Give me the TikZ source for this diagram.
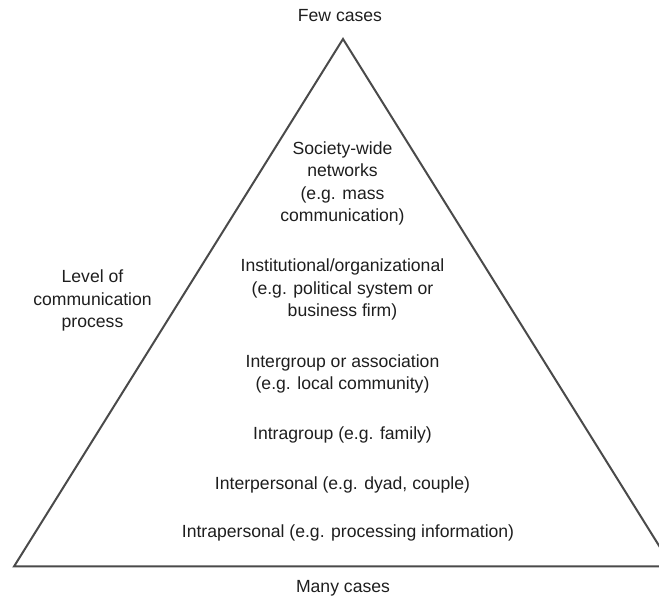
\documentclass[tikz,border=0pt]{standalone}
\usepackage{fontspec}
\setmainfont{Liberation Sans}
\definecolor{txt}{HTML}{1E1E1E}
\definecolor{lin}{HTML}{4A4A4A}
\begin{document}
\begin{tikzpicture}[x=1pt,y=1pt,
  lbl/.style={anchor=base, align=center, inner sep=0pt, text=txt, font=\fontsize{17.6}{22.5}\selectfont},
  edge/.style={draw=lin, line width=2pt, line join=miter}]
\clip (0,0) rectangle (659,599);
\coordinate (apex) at (343,560);
\coordinate (bl) at (14,32.5);
\coordinate (br) at (672,32.5);
\draw[edge] (apex) -- (bl) -- (br) -- cycle;
% anchor=base of a multi-line node is the baseline of its last line
\node[lbl] (few) at (340,577) {Few cases};
\node[lbl] (many) at (343,6) {Many cases};
\node[lbl] (level) at (92.5,271) {Level of\\communication\\process};
\node[lbl] (soc) at (342.5,377) {Society-wide\\networks\\(e.g. mass\\communication)};
\node[lbl] (inst) at (342.5,282) {Institutional/organizational\\(e.g. political system or\\business firm)};
\node[lbl] (igr) at (342.5,209) {Intergroup or association\\(e.g. local community)};
\node[lbl] (intra) at (342.5,159) {Intragroup (e.g. family)};
\node[lbl] (inter) at (342.5,109) {Interpersonal (e.g. dyad, couple)};
\node[lbl] (intrap) at (348,61) {Intrapersonal (e.g. processing information)};
\end{tikzpicture}
\end{document}
